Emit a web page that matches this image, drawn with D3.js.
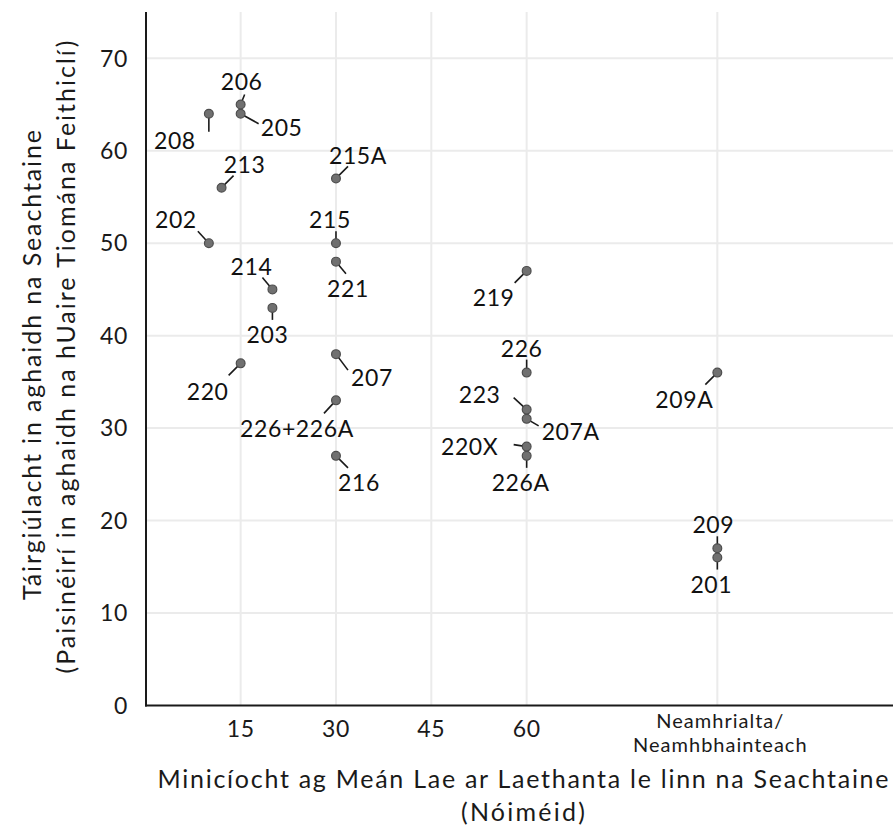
<!DOCTYPE html>
<html>
<head>
<meta charset="utf-8">
<script src="https://cdn.jsdelivr.net/npm/d3@7"></script>
<style>
  html, body { margin: 0; padding: 0; background: #fff; }
  svg { display: block; font-family: Lato, "Noto Sans", sans-serif; }
</style>
</head>
<body>
<svg id="chart" width="893" height="830"></svg>
<script>
// ---- data ----
const routes = ["208","206","205","213","215A","202","215","221","214","203","220","207","226+226A","216","219","226","223","207A","220X","226A","209A","209","201"];
// minutes between buses at midday on weekdays (90 = irregular / unreliable)
const frequency = [10,15,15,12,30,10,30,30,20,20,15,30,30,30,60,60,60,60,60,60,90,90,90];
// passengers per vehicle driving hour
const productivity = [64,65,64,56,57,50,50,48,45,43,37,38,33,27,47,36,32,31,28,27,36,17,16];

const xTickValues = [15, 30, 45, 60, 90];
const xTickLabels = ["15", "30", "45", "60", "Neamhrialta/|Neamhbhainteach"];
const yTickValues = [0, 10, 20, 30, 40, 50, 60, 70];

const xTitle = ["Minicíocht ag Meán Lae ar Laethanta le linn na Seachtaine", "(Nóiméid)"];
const yTitle = ["Táirgiúlacht in aghaidh na Seachtaine", "(Paisinéirí in aghaidh na hUaire Tiomána Feithiclí)"];

// ---- layout: label nudges (text centre dx,dy; leader end ex,ey) in px relative to point ----
const labelLayout = {
  "206": [1,-23, 4,-10],
  "205": [41,14, 18,10],
  "208": [-34,27, 0,18],
  "213": [23,-23, 12,-12],
  "215A": [22,-23, 12,-12],
  "202": [-33,-23, -11,-12],
  "215": [-6,-23, 0,-12],
  "221": [12,27, 10,12],
  "214": [-21,-23, -10,-12],
  "203": [-5,27, 0,12],
  "220": [-33,28, -12,12],
  "207": [36,24, 12,16],
  "226+226A": [-39,28, -12,13],
  "216": [23,27, 12,12],
  "219": [-33,27, -12,12],
  "226": [-5,-24, 0,-13],
  "223": [-47,-15, -13,-12],
  "207A": [44,13, 12,7],
  "220X": [-57,0, -13,-2],
  "226A": [-6,27, 0,12],
  "209A": [-33,27, -12,12],
  "209": [-4,-24, 0,-12],
  "201": [-6,27, 0,12]
};

const svg = d3.select("#chart");
const x = d3.scaleLinear().domain([0, 118]).range([145.3, 895.3]);
const y = d3.scaleLinear().domain([0, 75]).range([705.5, 12]);

const plotLeft = 146, plotRight = 893, plotTop = 12, plotBottom = 705.5;
const ink = "#1a1a1a";

// grid
const grid = svg.append("g");
grid.selectAll("line.h").data(yTickValues.filter(d => d > 0)).join("line")
  .attr("x1", plotLeft).attr("x2", plotRight)
  .attr("y1", d => y(d)).attr("y2", d => y(d))
  .attr("stroke", "#ebebeb").attr("stroke-width", 2);
grid.selectAll("line.v").data(xTickValues).join("line")
  .attr("y1", plotTop).attr("y2", plotBottom)
  .attr("x1", d => x(d)).attr("x2", d => x(d))
  .attr("stroke", "#ebebeb").attr("stroke-width", 2);

// axes lines
svg.append("line").attr("x1", plotLeft).attr("x2", plotLeft).attr("y1", plotTop).attr("y2", plotBottom + 1)
  .attr("stroke", ink).attr("stroke-width", 2);
svg.append("line").attr("x1", plotLeft - 1).attr("x2", plotRight).attr("y1", plotBottom).attr("y2", plotBottom)
  .attr("stroke", ink).attr("stroke-width", 2);

// y tick labels
svg.append("g").selectAll("text").data(yTickValues).join("text")
  .attr("x", 128).attr("y", d => y(d) + 8.3)
  .attr("text-anchor", "end").attr("font-size", 23).attr("letter-spacing", 0.6).attr("fill", ink)
  .text(d => d);

// x tick labels
const xt = svg.append("g").selectAll("text").data(xTickValues).join("text")
  .attr("text-anchor", "middle").attr("fill", ink);
xt.each(function(d, i) {
  const parts = xTickLabels[i].split("|");
  const t = d3.select(this);
  if (parts.length === 1) {
    t.attr("x", x(d)).attr("y", 737).attr("font-size", 23).attr("letter-spacing", 0.6).text(parts[0]);
  } else {
    t.attr("font-size", 20).attr("letter-spacing", 1);
    parts.forEach((p, j) => t.append("tspan").attr("x", x(d) + 3).attr("y", 728 + j * 23.5).text(p));
  }
});

// axis titles
const xTitleLen = [731, 124];
svg.append("g").selectAll("text").data(xTitle).join("text")
  .attr("x", 523).attr("y", (d, i) => 788 + i * 33)
  .attr("text-anchor", "middle").attr("font-size", 25).attr("fill", ink)
  .attr("textLength", (d, i) => xTitleLen[i]).attr("lengthAdjust", "spacing")
  .text(d => d);
const yTitleLen = [470, 633];
const yTitleCentre = [365, 357];
svg.append("g").selectAll("text").data(yTitle).join("text")
  .attr("transform", (d, i) => `translate(${41 + i * 34},${yTitleCentre[i]}) rotate(-90)`)
  .attr("text-anchor", "middle").attr("font-size", 25).attr("fill", ink)
  .attr("textLength", (d, i) => yTitleLen[i]).attr("lengthAdjust", "spacing")
  .text(d => d);

// data
const pts = routes.map((r, i) => ({ r, fx: frequency[i], p: productivity[i] }));

// leader segments
svg.append("g").selectAll("line").data(pts).join("line")
  .attr("x1", d => x(d.fx)).attr("y1", d => y(d.p))
  .attr("x2", d => x(d.fx) + labelLayout[d.r][2]).attr("y2", d => y(d.p) + labelLayout[d.r][3])
  .attr("stroke", ink).attr("stroke-width", 1.6);

// points
svg.append("g").selectAll("circle").data(pts).join("circle")
  .attr("cx", d => x(d.fx)).attr("cy", d => y(d.p)).attr("r", 4.4)
  .attr("fill", "#707070").attr("stroke", "#4d4d4d").attr("stroke-width", 1.2);

// labels
svg.append("g").selectAll("text").data(pts).join("text")
  .attr("x", d => x(d.fx) + labelLayout[d.r][0])
  .attr("y", d => y(d.p) + labelLayout[d.r][1] + 8.3)
  .attr("text-anchor", "middle").attr("font-size", 23).attr("letter-spacing", 0.6).attr("fill", "#111")
  .text(d => d.r);
</script>
</body>
</html>
